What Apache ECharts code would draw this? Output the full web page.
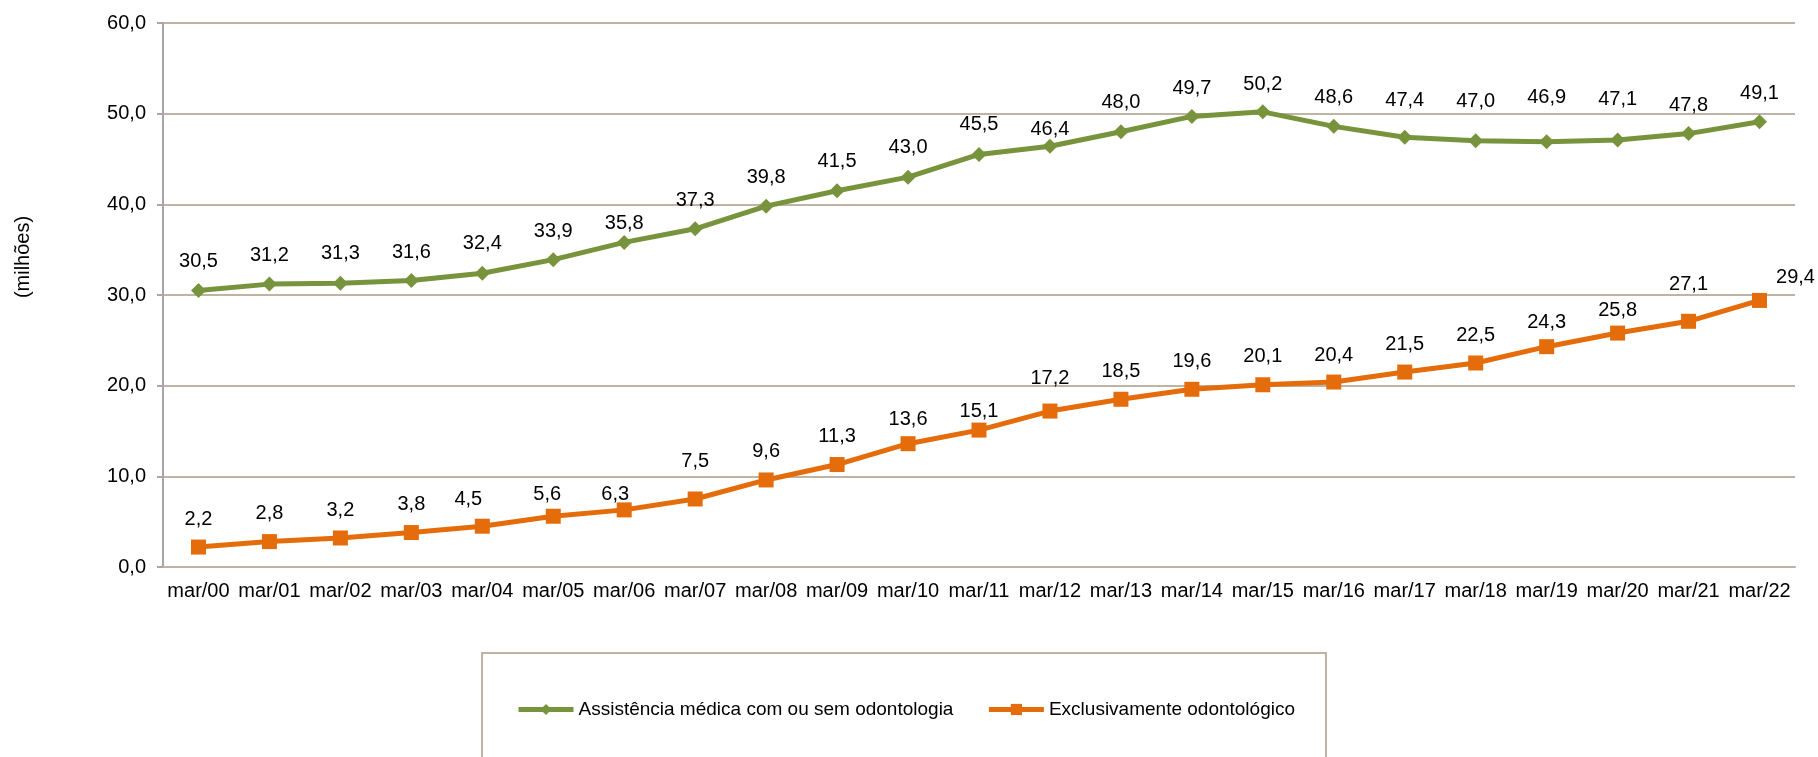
<!DOCTYPE html>
<html>
<head>
<meta charset="utf-8">
<title>Beneficiários</title>
<script src="https://cdn.jsdelivr.net/npm/echarts@6/dist/echarts.min.js"></script>
<style>
  html, body { margin: 0; padding: 0; background: #fff; }
  #chart { width: 1818px; height: 757px; }
</style>
</head>
<body>
<div id="chart"></div>
<script>
// categorias (eixo x)
const anos = ['mar/00', 'mar/01', 'mar/02', 'mar/03', 'mar/04', 'mar/05', 'mar/06', 'mar/07', 'mar/08', 'mar/09', 'mar/10', 'mar/11',
  'mar/12', 'mar/13', 'mar/14', 'mar/15', 'mar/16', 'mar/17', 'mar/18', 'mar/19', 'mar/20', 'mar/21', 'mar/22']
// séries (milhões)
const medica = [30.5, 31.2, 31.3, 31.6, 32.4, 33.9, 35.8, 37.3, 39.8, 41.5, 43.0, 45.5, 46.4, 48.0, 49.7, 50.2, 48.6, 47.4, 47.0, 46.9, 47.1, 47.8, 49.1]
const odonto = [2.2, 2.8, 3.2, 3.8, 4.5, 5.6, 6.3, 7.5, 9.6, 11.3, 13.6, 15.1, 17.2, 18.5, 19.6, 20.1, 20.4, 21.5, 22.5, 24.3, 25.8, 27.1, 29.4]
// marcas do eixo y
const yTicks = { min: 0, max: 60, interval: 10 }

// deslocamento dos rótulos (px acima do ponto / para o lado)
const medicaLift = [29, 29, 30, 28, 30, 28, 19, 28, 29, 29, 30, 30, 17, 29, 28, 27, 29, 37, 39, 44, 40, 28, 28]
const odontoLift = [28, 28, 28, 28, 27, 22, 15, 38, 28, 28, 24, 19, 33, 28, 28, 28, 27, 28, 28, 24, 23, 37, 23]
const odontoShift = [0, 0, 0, 0, -14, -6, -9, 0, 0, 0, 0, 0, 0, 0, 0, 0, 0, 0, 0, 0, 0, 0, 36]

const fonte = 'Liberation Sans, Arial, sans-serif'
const virgula = v => v.toFixed(1).replace('.', ',')

function pontos (valores, lift, shift) {
  return valores.map((v, i) => ({
    value: v,
    label: { offset: [shift ? shift[i] : 0, -lift[i]] }
  }))
}

const myChart = echarts.init(document.getElementById('chart'))
const option = {
  animation: false,
  textStyle: { fontFamily: fonte },
  grid: { left: 163, right: 23, top: 23, bottom: 190 },
  legend: {
    left: 511,
    top: 695,
    itemWidth: 55,
    itemHeight: 14,
    itemGap: 33,
    lineStyle: { width: 5 },
    textStyle: { fontSize: 19, color: '#000', fontFamily: fonte },
    data: ['Assistência médica com ou sem odontologia', 'Exclusivamente odontológico']
  },
  graphic: [
    {
      type: 'rect',
      shape: { x: 482, y: 653, width: 844, height: 130 },
      style: { fill: 'none', stroke: '#BFB3A3', lineWidth: 2 }
    },
    {
      type: 'text',
      x: 23,
      y: 257,
      rotation: Math.PI / 2,
      style: {
        text: '(milhões)',
        fontSize: 20,
        fontFamily: fonte,
        fill: '#000',
        align: 'center',
        verticalAlign: 'middle'
      }
    }
  ],
  xAxis: {
    type: 'category',
    data: anos,
    axisLine: { lineStyle: { color: '#BFB3A3', width: 2 } },
    axisTick: { alignWithLabel: true, length: 6, lineStyle: { color: '#BFB3A3', width: 2 } },
    axisLabel: { fontSize: 20, color: '#000', margin: 14, interval: 0 }
  },
  yAxis: {
    type: 'value',
    min: yTicks.min,
    max: yTicks.max,
    interval: yTicks.interval,
    axisLine: { show: true, lineStyle: { color: '#A6A6A6', width: 2 } },
    axisTick: { show: true, length: 6, lineStyle: { color: '#A6A6A6', width: 2 } },
    axisLabel: { fontSize: 20, color: '#000', margin: 17, formatter: virgula },
    splitLine: { lineStyle: { color: '#BFB3A3', width: 2 } }
  },
  series: [
    {
      name: 'Assistência médica com ou sem odontologia',
      type: 'line',
      data: pontos(medica, medicaLift),
      symbol: 'diamond',
      symbolSize: 15,
      itemStyle: { color: '#77933C' },
      lineStyle: { color: '#77933C', width: 5 },
      label: {
        show: true,
        position: 'inside',
        fontSize: 20,
        color: '#000',
        formatter: p => virgula(p.value)
      }
    },
    {
      name: 'Exclusivamente odontológico',
      type: 'line',
      data: pontos(odonto, odontoLift, odontoShift),
      symbol: 'rect',
      symbolSize: 15,
      itemStyle: { color: '#E46C0A' },
      lineStyle: { color: '#E46C0A', width: 5 },
      label: {
        show: true,
        position: 'inside',
        fontSize: 20,
        color: '#000',
        formatter: p => virgula(p.value)
      }
    }
  ]
}
myChart.setOption(option)
</script>
</body>
</html>
